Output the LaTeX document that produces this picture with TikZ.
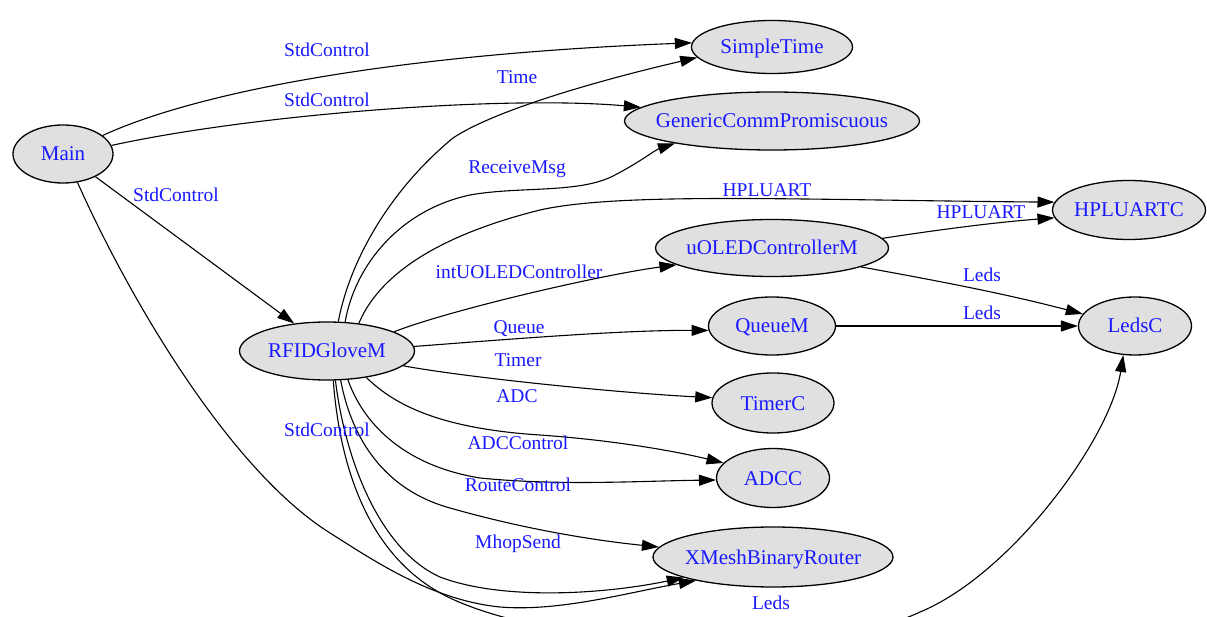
\documentclass[tikz,border=0pt]{standalone}
\usepackage{fontspec}
\setmainfont{Liberation Serif}
\usetikzlibrary{shapes.geometric,arrows.meta}
\definecolor{nodefill}{RGB}{224,224,224}
\definecolor{txtblue}{RGB}{25,25,255}
\begin{document}
\begin{tikzpicture}[x=1pt,y=-1pt,
  comp/.style={ellipse, draw=black, line width=1.3pt, fill=nodefill, inner xsep=-60pt, inner ysep=0pt,
    text=txtblue, font=\fontsize{21}{21}\selectfont, text height=14pt, text depth=0pt},
  lab/.style={text=txtblue, font=\fontsize{19.5}{20}\selectfont, inner sep=0pt, text height=13.5pt, text depth=0pt},
  conn/.style={draw=black, line width=1.1pt, -{Triangle[length=17pt,width=11pt]}}]
\useasboundingbox (0,0) rectangle (1207,617);
\clip (0,0) rectangle (1207,617);
\fill[white] (0,0) rectangle (1207,617);

% components
\node[comp, minimum width=100pt, minimum height=58pt] (main) at (63,154) {Main};
\node[comp, minimum width=161pt, minimum height=53pt] (st) at (772,47) {SimpleTime};
\node[comp, minimum width=295pt, minimum height=58pt] (gcp) at (772,121) {GenericCommPromiscuous};
\node[comp, minimum width=153pt, minimum height=59pt] (hpl) at (1129,210) {HPLUARTC};
\node[comp, minimum width=233pt, minimum height=57pt] (uoled) at (772,248) {uOLEDControllerM};
\node[comp, minimum width=113pt, minimum height=58pt] (leds) at (1135,326) {LedsC};
\node[comp, minimum width=127pt, minimum height=58pt] (queue) at (772,326) {QueueM};
\node[comp, minimum width=175pt, minimum height=58pt] (rfid) at (327,351) {RFIDGloveM};
\node[comp, minimum width=122pt, minimum height=60pt] (timer) at (773,403) {TimerC};
\node[comp, minimum width=113pt, minimum height=59pt] (adcc) at (773,478) {ADCC};
\node[comp, minimum width=240pt, minimum height=60pt] (xmesh) at (773,557) {XMeshBinaryRouter};

% connectors from Main
\draw[conn] (main.25) .. controls (190,95) and (380,55) .. (st.177);
\draw[conn] (main.10) .. controls (250,115) and (500,95) .. (gcp.174);
\draw[conn] (main.-35) -- (rfid.140);
\draw[conn] (main.-63) .. controls (130,300) and (230,470) .. (330,533) .. controls (370,558) and (430,600) .. (500,607) .. controls (560,612) and (630,592) .. (xmesh.197);

% connectors from RFIDGloveM
\draw[conn] (rfid.69) .. controls (350,260) and (390,190) .. (453,138) .. controls (495,110) and (600,80) .. (st.188);
\draw[conn] (rfid.58) .. controls (355,265) and (400,210) .. (470,195) .. controls (520,186) and (580,194) .. (615,175) .. controls (640,162) and (655,150) .. (gcp.193);
\draw[conn] (rfid.41) .. controls (375,285) and (420,240) .. (540,210) .. controls (620,192) and (800,200) .. (hpl.174);
\draw[conn] (rfid.16) .. controls (450,310) and (600,275) .. (uoled.190);
\draw[conn] (rfid.3) .. controls (500,340) and (620,330) .. (queue.184);
\draw[conn] (rfid.-11) .. controls (470,378) and (620,393) .. (timer.175);
\draw[conn] (rfid.-34) .. controls (390,400) and (430,428) .. (540,435) .. controls (610,440) and (670,450) .. (adcc.163);
\draw[conn] (rfid.-54) .. controls (362,420) and (400,465) .. (480,478) .. controls (560,486) and (640,481) .. (adcc.182);
\draw[conn] (rfid.-65) .. controls (352,440) and (385,490) .. (450,508) .. controls (520,528) and (590,540) .. (xmesh.175);
\draw[conn] (rfid.-74) .. controls (345,460) and (380,550) .. (440,577) .. controls (500,600) and (600,595) .. (xmesh.193);
\draw[conn] (rfid.-78) .. controls (340,470) and (370,560) .. (450,598) .. controls (560,650) and (820,660) .. (920,612) .. controls (1010,575) and (1110,440) .. (leds.-112);

% other connectors
\draw[conn] (uoled.5) .. controls (950,228) and (1000,222) .. (hpl.186);
\draw[conn] (uoled.-12) .. controls (950,283) and (1010,295) .. (leds.167);
\draw[conn] (queue.east) -- (leds.west);

% labels
\node[lab] (l1) at (327,50) {StdControl};
\node[lab] (l2) at (327,100) {StdControl};
\node[lab] (l3) at (176,195) {StdControl};
\node[lab] (l4) at (327,430) {StdControl};
\node[lab] (l5) at (517,77) {Time};
\node[lab] (l6) at (517,167) {ReceiveMsg};
\node[lab] (l7) at (767,190) {HPLUART};
\node[lab] (l8) at (981,212) {HPLUART};
\node[lab] (l9) at (982,275) {Leds};
\node[lab] (l10) at (982,313) {Leds};
\node[lab] (l11) at (519,272) {intUOLEDController};
\node[lab] (l12) at (519,327) {Queue};
\node[lab] (l13) at (518,360) {Timer};
\node[lab] (l14) at (517,396) {ADC};
\node[lab] (l15) at (518,443) {ADCControl};
\node[lab] (l16) at (518,485) {RouteControl};
\node[lab] (l17) at (518,542) {MhopSend};
\node[lab] (l18) at (771,603) {Leds};
\end{tikzpicture}
\end{document}
